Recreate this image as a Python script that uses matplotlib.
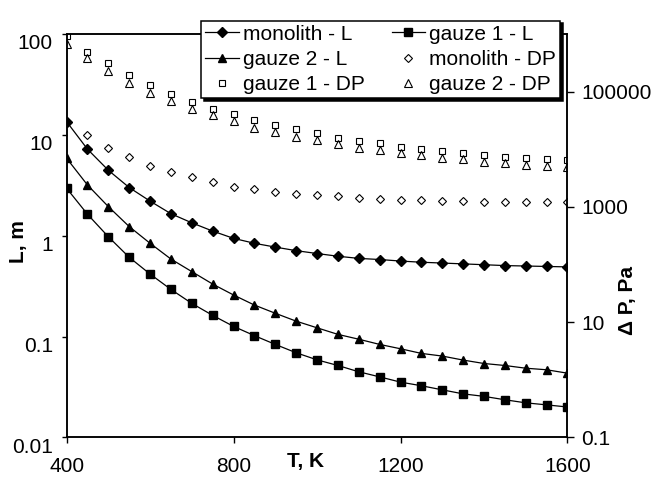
import matplotlib
matplotlib.use("Agg")
import matplotlib.pyplot as plt
from matplotlib.ticker import NullLocator
from matplotlib.transforms import ScaledTranslation

plt.rcParams['font.family'] = ['Liberation Sans', 'DejaVu Sans']

T = [400, 450, 500, 550, 600, 650, 700, 750, 800, 850, 900, 950, 1000,
     1050, 1100, 1150, 1200, 1250, 1300, 1350, 1400, 1450, 1500, 1550, 1600]

monolith_L = [13.5, 7.2, 4.45, 3.0, 2.2, 1.65, 1.34, 1.11, 0.94, 0.84, 0.77, 0.71, 0.665,
              0.625, 0.595, 0.58, 0.56, 0.545, 0.535, 0.525, 0.515, 0.505, 0.50, 0.495, 0.49]
gauze1_L = [2.95, 1.63, 0.975, 0.61, 0.416, 0.293, 0.213, 0.162, 0.126, 0.102, 0.0835, 0.069, 0.0587,
            0.0516, 0.0447, 0.0398, 0.0353, 0.0325, 0.0296, 0.027, 0.0255, 0.0236, 0.022, 0.021, 0.020]
gauze2_L = [5.85, 3.18, 1.94, 1.23, 0.84, 0.586, 0.44, 0.331, 0.258, 0.205, 0.17, 0.142, 0.122,
            0.105, 0.094, 0.0835, 0.0756, 0.068, 0.064, 0.0584, 0.054, 0.0516, 0.0485, 0.0468, 0.0433]

monolith_DP = [30000, 17900, 10700, 7200, 5160, 3950, 3240, 2650, 2230, 2000, 1845, 1680, 1590,
               1530, 1435, 1380, 1330, 1300, 1270, 1250, 1230, 1220, 1210, 1200, 1200]
gauze1_DP = [905000, 489000, 310000, 192000, 130000, 92300, 67000, 50600, 40300, 31700, 26300, 22100, 18800,
             15900, 14100, 12600, 11000, 10200, 9270, 8690, 7890, 7410, 7110, 6650, 6380]
gauze2_DP = [665000, 379000, 228000, 143000, 96200, 68700, 49800, 38700, 30800, 23700, 19800, 16500, 14400,
             12100, 10600, 9640, 8450, 7800, 7110, 6650, 6070, 5660, 5370, 5080, 4890]

left_ticks = [0.01, 0.1, 1, 10, 100]
left_labels = ['0.01', '0.1', '1', '10', '100']
right_ticks = [0.1, 10, 1000, 100000]
right_labels = ['0.1', '10', '1000', '100000']
x_ticks = [400, 800, 1200, 1600]
x_labels = ['400', '800', '1200', '1600']

FS = 15

fig = plt.figure(figsize=(6.53, 4.78), dpi=100)
ax = fig.add_axes([0.102, 0.085, 0.767, 0.844])
ax2 = ax.twinx()
ax.set_zorder(ax2.get_zorder() + 1)
ax.patch.set_visible(False)

lw = 0.9
h_mL, = ax.plot(T, monolith_L, color='black', lw=lw, marker='D', ms=4.8,
                mfc='black', mec='black', label='monolith - L')
h_g1L, = ax.plot(T, gauze1_L, color='black', lw=lw, marker='s', ms=5.4,
                 mfc='black', mec='black', label='gauze 1 - L')
h_g2L, = ax.plot(T, gauze2_L, color='black', lw=lw, marker='^', ms=6.4,
                 mfc='black', mec='black', label='gauze 2 - L')

h_mDP, = ax2.plot(T, monolith_DP, ls='none', marker='D', ms=3.8, mfc='white',
                  mec='black', mew=0.8, label='monolith - DP')
h_g1DP, = ax2.plot(T, gauze1_DP, ls='none', marker='s', ms=5.0, mfc='none',
                   mec='black', mew=0.8, label='gauze 1 - DP')
h_g2DP, = ax2.plot(T, gauze2_DP, ls='none', marker='^', ms=5.4, mfc='none',
                   mec='black', mew=0.8, label='gauze 2 - DP')

ax.set_yscale('log')
ax.set_ylim(0.01, 100)
ax.set_yticks(left_ticks)
ax.set_yticklabels(left_labels)
ax.yaxis.set_minor_locator(NullLocator())
ax.set_xlim(400, 1600)
ax.set_xticks(x_ticks)
ax.set_xticklabels(x_labels)

ax2.set_yscale('log')
ax2.set_ylim(0.1, 1e6)
ax2.set_yticks(right_ticks)
ax2.set_yticklabels(right_labels)
ax2.yaxis.set_minor_locator(NullLocator())

ax.tick_params(axis='y', which='major', direction='out', length=3.6, width=1,
               labelsize=FS, pad=6.2)
ax.tick_params(axis='x', which='major', direction='out', length=4.3, width=1,
               labelsize=FS, pad=9.5)
ax2.tick_params(axis='y', which='major', direction='out', length=5, width=1,
                labelsize=FS, pad=5)

for a in (ax, ax2):
    for s in a.spines.values():
        s.set_linewidth(1.1)

# left tick labels sit a little below their ticks in the original
off = ScaledTranslation(0, -8 / 100, fig.dpi_scale_trans)
for tk in ax.yaxis.get_major_ticks():
    tk.label1.set_transform(tk.label1.get_transform() + off)

ax.set_ylabel('L, m', fontsize=FS, fontweight='bold')
ax.yaxis.set_label_coords(-0.077, 0.485)
ax.set_xlabel('T, K', fontsize=FS, fontweight='bold', va='top')
ax.xaxis.set_label_coords(0.476, -0.036)
ax2.set_ylabel('\u0394 P, Pa', fontsize=FS, fontweight='bold', va='center')
ax2.yaxis.set_label_coords(1.12, 0.34)

handles = [h_mL, h_g2L, h_g1DP, h_g1L, h_mDP, h_g2DP]
leg = ax.legend(handles=handles, labels=[h.get_label() for h in handles],
                ncol=2, loc='upper right', bbox_to_anchor=(0.858, 0.957),
                bbox_transform=fig.transFigure, fontsize=FS, frameon=True,
                fancybox=False, shadow={'color': 'black', 'alpha': 1},
                edgecolor='black', framealpha=1, borderpad=0.2,
                labelspacing=0.3, handlelength=1.6, handletextpad=0.2,
                columnspacing=1.3, borderaxespad=0)
leg.get_frame().set_linewidth(1.1)

fig.savefig('out.png', dpi=100)
